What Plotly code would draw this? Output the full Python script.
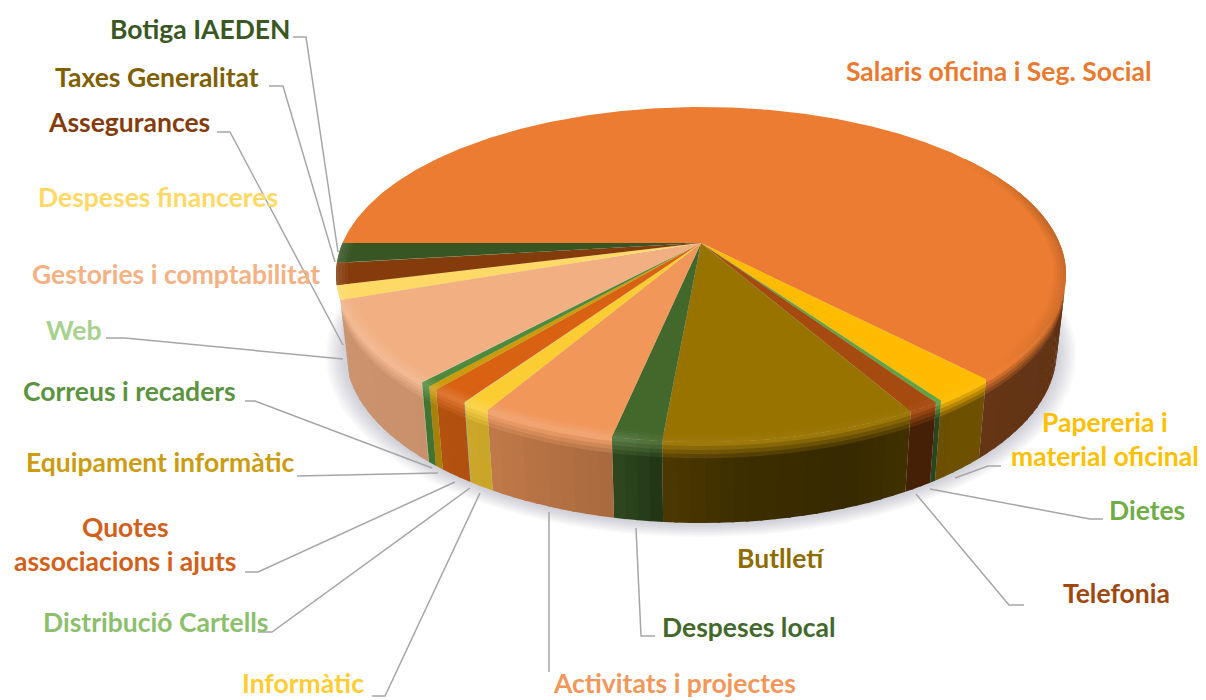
import numpy as np
import plotly.graph_objects as go

# ---- data (clockwise from the 9 o'clock position) ----
categories = ["Salaris oficina i Seg. Social", "Papereria i material oficinal", "Dietes", "Telefonia",
              "Butlletí", "Despeses local", "Activitats i projectes", "Informàtic", "Distribució Cartells",
              "Quotes associacions i ajuts", "Equipament informàtic", "Correus i recaders", "Web",
              "Gestories i comptabilitat", "Despeses financeres", "Assegurances", "Taxes Generalitat",
              "Botiga IAEDEN"]
values = [63.0, 2.47, 0.25, 1.19, 9.54, 1.85, 5.06, 1.06, 0.03, 1.47, 0.39, 0.42, 0.03, 7.94, 1.36, 2.07, 0.03, 1.9]
colors = ["#EB7C31", "#FFBB00", "#62A244", "#A54B0F", "#997300", "#43682B", "#F1975A", "#FBCD32", "#A9D18E",
          "#D96212", "#CC9A0A", "#4F8A3A", "#A9D18E", "#F1AF82", "#FFD966", "#843C0C", "#7F6000", "#375623"]
text_colors = ["#E97A30", "#FFC000", "#70AD47", "#9E480E", "#8F6C00", "#43682B", "#F1975A", "#FFCD33", "#8CBF6C",
               "#D2601A", "#CB9C10", "#5B9340", "#A9D18E", "#F4B183", "#FFD966", "#843C0C", "#7F6000", "#385723"]

# ---- projection of the disc ----
CX, AY, B, K, C = 701.0, 243.0, -115.9, 0.188, 358.5

def proj(t, r=1.0, d=0.0):
    t = np.radians(t)
    X, Y = r * np.cos(t), r * np.sin(t)
    w = 1 + K * Y
    x = CX + C * X / w
    y = (AY + B * Y) / w
    x = CX + (x - CX) * (1 - 0.025 * d)
    y = y + d * (75 + 6 * np.maximum(0, -np.sin(t)))
    return x, y

def rgb(h):
    return np.array([int(h[i:i + 2], 16) for i in (1, 3, 5)], float)

def css(c):
    c = np.clip(c, 0, 255).round().astype(int)
    return f"rgb({c[0]},{c[1]},{c[2]})"

def wall_factor(t):
    return np.interp(t, [-180, -130, -120, -102, -98, -95, -85, -70, -61, -47, 0, 20],
                     [.85, .83, .80, .70, .60, .50, .40, .36, .42, .43, .40, .40])

def edge_light(t):
    return np.interp(t, [-180, -100, -95, -60, -47, -30, 10, 35],
                     [.13, .12, .05, .03, .03, -.08, -.18, 0])

def lit(c, g):
    return c + (255 - c) * g if g >= 0 else c * (1 + g)

fig = go.Figure()

def poly(x, y, color, name):
    fig.add_trace(go.Scatter(x=list(x), y=list(y), mode="lines", fill="toself", fillcolor=color,
                             line=dict(color=color, width=0), name=name, hoverinfo="skip"))

# soft ground shadow
ts = np.linspace(25, -200, 120)
for e in range(8):
    f = 1 + 0.0065 * (8 - e)
    x, y = proj(ts, f, 1.0)
    poly(x, y + 1, "rgba(110,110,115,0.04)", "shadow")

# slice limits
total = sum(values)
edges = 180 - np.concatenate([[0], np.cumsum(values)]) / total * 360

def pieces(a, b, lo, hi):
    a, b = min(a, hi), max(b, lo)
    if a <= b:
        return []
    n = max(1, int(np.ceil((a - b) / 2.0)))
    e = np.linspace(a, b, n + 1)
    return list(zip(e[:-1], e[1:]))

OV = 0.4  # overlap in degrees, hides the seams between neighbouring strips

# side wall
DF = [0, .05, .10, .15, .20, .25, 1]
WALL_END = edges[14]
for name, col, a, b in zip(categories, colors, edges[:-1], edges[1:]):
    c = rgb(col)
    for p, q in pieces(a, b, WALL_END, 20):
        m = (p + q) / 2
        top, wall = lit(c, edge_light(m)), c * wall_factor(m)
        qq = q - OV if (q - OV) > b else q
        for i in range(len(DF) - 1):
            u = min(1, i / 4.0)
            shade = top * (1 - u) + wall * u
            xa, ya = proj(np.array([p, qq]), 1.0, DF[i])
            xb, yb = proj(np.array([qq, p]), 1.0, min(1, DF[i + 1] + .01))
            poly(np.r_[xa, xb], np.r_[ya, yb], css(shade), name)

# top face
for name, col, a, b in zip(categories, colors, edges[:-1], edges[1:]):
    ang = np.linspace(a, b, max(2, int((a - b) * 2) + 2))
    x, y = proj(ang)
    poly(np.r_[CX, x], np.r_[AY, y], col, name)

# soft bevel round the rim
RF = [.968, .976, .984, .992, 1.0]
for name, col, a, b in zip(categories, colors, edges[:-1], edges[1:]):
    c = rgb(col)
    for p, q in pieces(a, b, -182, 35):
        m = (p + q) / 2
        qq = q - OV if (q - OV) > b else q
        for i in range(4):
            shade = lit(c, edge_light(m) * (i + 1) / 4)
            xa, ya = proj(np.array([p, qq]), RF[i])
            xb, yb = proj(np.array([qq, p]), RF[i + 1])
            poly(np.r_[xa, xb], np.r_[ya, yb], css(shade), name)

# ---- labels (index into categories, centre x, centre y, text) ----
labels = [
    (0, 999, 71, "Salaris oficina i Seg. Social"),
    (1, 1105, 439, "Papereria i<br>material oficinal"),
    (2, 1147, 510, "Dietes"),
    (3, 1116, 593, "Telefonia"),
    (4, 781, 558, "Butlletí"),
    (5, 748, 627, "Despeses local"),
    (6, 674, 683, "Activitats i projectes"),
    (7, 303, 683, "Informàtic"),
    (8, 156, 622, "Distribució Cartells"),
    (9, 125, 544, "Quotes<br>associacions i ajuts"),
    (10, 160, 462, "Equipament informàtic"),
    (11, 129, 391, "Correus i recaders"),
    (12, 73, 330, "Web"),
    (13, 176, 274, "Gestories i comptabilitat"),
    (14, 158, 197, "Despeses financeres"),
    (15, 129, 122, "Assegurances"),
    (16, 157, 77, "Taxes Generalitat"),
    (17, 200, 29, "Botiga IAEDEN"),
]
annotations = [dict(x=x, y=y, xref="x", yref="y", text=f"<b>{t}</b>", showarrow=False, xanchor="center",
                    yanchor="middle", font=dict(family="Lato", size=26.5, color=text_colors[i]), align="center")
               for i, x, y, t in labels]

leaders = [
    [(293, 37), (306, 37), (338, 252)],
    [(269, 86), (283, 86), (335, 262)],
    [(217, 132), (230, 132), (343, 345)],
    [(106, 338), (125, 338), (343, 359)],
    [(245, 401), (255, 401), (432, 468)],
    [(297, 476), (438, 473)],
    [(245, 572), (258, 572), (455, 482)],
    [(258, 632), (272, 632), (470, 488)],
    [(372, 696), (385, 696), (480, 493)],
    [(549, 672), (549, 512)],
    [(655, 636), (641, 636), (636, 528)],
    [(1024, 605), (1009, 605), (916, 494)],
    [(1103, 519), (1090, 519), (930, 489)],
    [(1001, 466), (988, 466), (955, 478)],
]
shapes = [dict(type="path", xref="x", yref="y", layer="above",
               path="M" + " L".join(f"{a},{b}" for a, b in pts),
               line=dict(color="#A6A6A6", width=1.5)) for pts in leaders]

# the page keeps an 8 px body margin, so the axes start at 8 to stay aligned with the window
fig.update_layout(width=1198, height=692, margin=dict(l=0, r=0, t=0, b=0), showlegend=False,
                  paper_bgcolor="white", plot_bgcolor="white", annotations=annotations, shapes=shapes,
                  xaxis=dict(range=[8, 1206], visible=False, fixedrange=True),
                  yaxis=dict(range=[700, 8], visible=False, fixedrange=True))
fig.write_html("out.html", config=dict(displayModeBar=False))
